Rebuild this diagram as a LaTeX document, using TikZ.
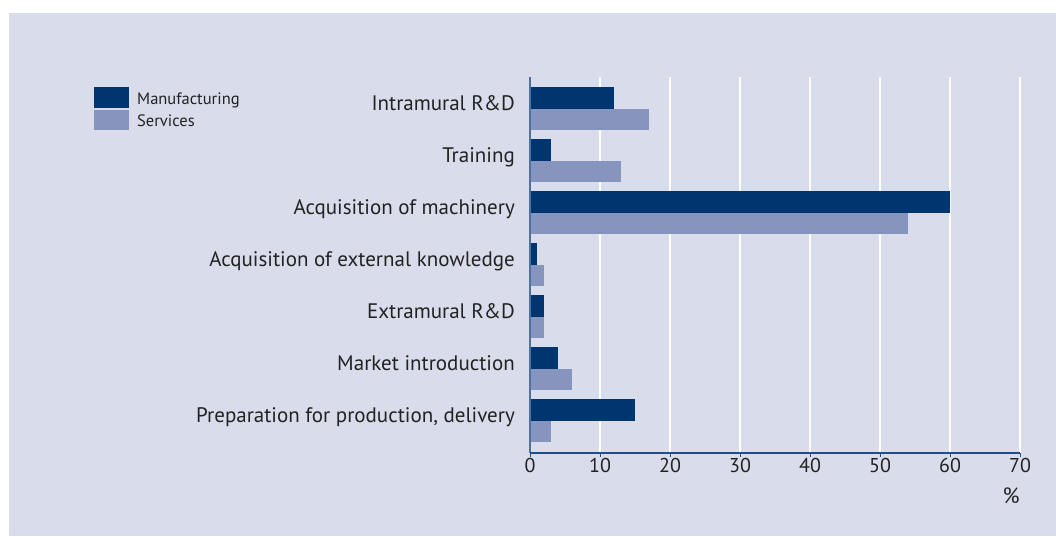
\documentclass[tikz,border=0pt]{standalone}
\usepackage{fontspec}
\setmainfont{PT Sans}
\definecolor{panel}{HTML}{D9DCEA}
\definecolor{manuf}{HTML}{00366F}
\definecolor{serv}{HTML}{8794BD}
\definecolor{axisblue}{HTML}{1F4E8C}
\definecolor{txt}{HTML}{222222}
\begin{document}
\begin{tikzpicture}[x=1pt, y=-1pt, font=\fontsize{21}{24}\selectfont, text=txt]
    \useasboundingbox (0,0) rectangle (1056,536);
    \fill[panel] (9,13) rectangle (1056,536);
    % grid
    \foreach \v in {10,20,...,70}
        \draw[white, line width=2pt] (530+7*\v,77) -- (530+7*\v,453);
    % bars
    \foreach \i/\lab/\m/\s in {0/Intramural R\&D/12/17, 1/Training/3/13, 2/Acquisition of machinery/60/54,
        3/Acquisition of external knowledge/1/2, 4/Extramural R\&D/2/2, 5/Market introduction/4/6,
        6/{Preparation for production, delivery}/15/3} {
        \fill[manuf] (530,87+52*\i) rectangle (530+7*\m,108.5+52*\i);
        \fill[serv] (530,108.5+52*\i) rectangle (530+7*\s,130+52*\i);
        \node[anchor=base east, inner sep=0pt] (cat\i) at (515,110+52*\i) {\lab};
    }
    % axes
    \draw[axisblue!80, line width=1.5pt] (530,77) -- (530,453);
    \draw[axisblue, line width=1.5pt] (530,453) -- (1020,453);
    \foreach \v in {0,10,...,70} {
        \draw[axisblue, line width=1pt] (530+7*\v,453) -- (530+7*\v,457);
        \node[anchor=base, inner sep=0pt, font=\fontsize{20}{24}\selectfont] (tick\v) at (530+7*\v,472) {\v};
    }
    \node[anchor=base, inner sep=0pt, font=\fontsize{22}{24}\selectfont] (unit) at (1011,503) {\%};
    % legend
    \fill[manuf] (94,87) rectangle (129,108);
    \fill[serv] (94,110) rectangle (129,130);
    \node[anchor=base west, inner sep=0pt, font=\fontsize{16.5}{18}\selectfont] (lmanuf) at (137,104) {Manufacturing};
    \node[anchor=base west, inner sep=0pt, font=\fontsize{16.5}{18}\selectfont] (lserv) at (137,126) {Services};
\end{tikzpicture}
\end{document}
